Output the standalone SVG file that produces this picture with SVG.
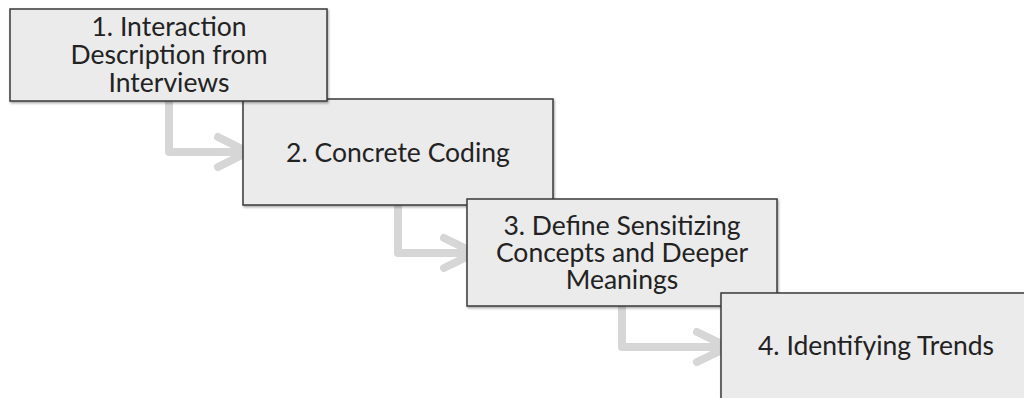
<svg xmlns="http://www.w3.org/2000/svg" width="1024" height="398" viewBox="0 0 1024 398">
  <style>
    .box { fill: #ebebeb; stroke: #3a3a3a; stroke-width: 1.5; filter: url(#sh); }
    .lbl { font-family: Lato, "Open Sans", sans-serif; font-size: 26.5px; fill: #222; text-anchor: middle; }
    .arr { fill: none; stroke: #d6d6d6; stroke-width: 8; stroke-linecap: round; stroke-linejoin: round; }
  </style>
  <defs>
    <filter id="sh" x="-5%" y="-5%" width="110%" height="115%">
      <feDropShadow dx="1" dy="1.5" stdDeviation="1" flood-color="#000" flood-opacity="0.35"/>
    </filter>
  </defs>
  <rect width="1024" height="398" fill="#fff"/>
  <g id="connectors">
    <path class="arr" d="M169 101 V152 H246 M218 137 L248 152 L218 167"/>
    <path class="arr" d="M398 205 V253 H473 M444 238 L475 253 L444 268"/>
    <path class="arr" d="M622 307 V347 H726 M697 332 L728 347 L697 362"/>
  </g>
  <g id="node2">
    <rect class="box" x="243" y="99" width="310" height="106"/>
    <text class="lbl" x="398" y="162">2. Concrete Coding</text>
  </g>
  <g id="node1">
    <rect class="box" x="10" y="9" width="317" height="92"/>
    <text class="lbl" x="169" y="36">1. Interaction</text>
    <text class="lbl" x="169" y="64">Description from</text>
    <text class="lbl" x="169" y="92">Interviews</text>
  </g>
  <g id="node3">
    <rect class="box" x="467" y="199" width="310" height="107"/>
    <text class="lbl" x="622" y="235">3. Define Sensitizing</text>
    <text class="lbl" x="622" y="262">Concepts and Deeper</text>
    <text class="lbl" x="622" y="289">Meanings</text>
  </g>
  <g id="node4">
    <rect class="box" x="721" y="293" width="312" height="110"/>
    <text class="lbl" x="876" y="355">4. Identifying Trends</text>
  </g>
</svg>
